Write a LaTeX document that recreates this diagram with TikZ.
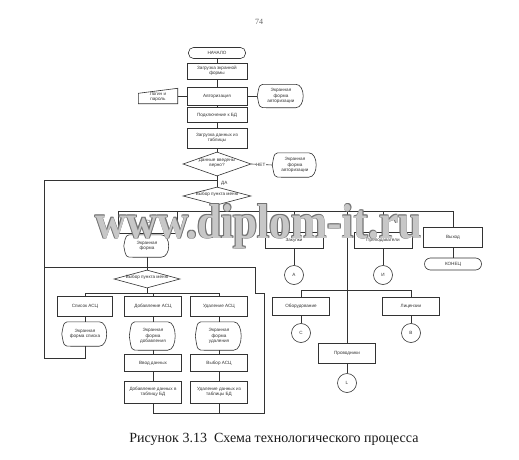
\documentclass[tikz,border=0pt]{standalone}
\usepackage{fontspec}
\setmainfont{Liberation Sans}
\newfontfamily\serifcap{Liberation Serif}
\usetikzlibrary{shapes.geometric,calc}
\newcommand\dtext[1]{\makebox[0pt]{\smash{\begin{tabular}{@{}c@{}}#1\end{tabular}}}}
\newcommand\dispdraw[1]{\draw[ln] ($(#1.north west)+(9,0)$) -- ($(#1.north east)+(-9,0)$) .. controls ($(#1.north east)+(1,0)$) and ($(#1.south east)+(1,0)$) .. ($(#1.south east)+(-9,0)$) -- ($(#1.south west)+(9,0)$) .. controls ($(#1.south west)+(2,0)$) .. (#1.west) .. controls ($(#1.north west)+(2,0)$) .. ($(#1.north west)+(9,0)$);}
\newcommand\maninput[1]{\draw[ln] (#1.south west) -- ($(#1.north west)+(0,5)$) -- (#1.north east) -- (#1.south east) -- cycle;}
\newcommand\wmtext{\resizebox{327pt}{34pt}{www.diplom-it.ru}}
\tikzset{
  ln/.style={line width=0.6pt, draw=black!80},
  fc/.style={font=\fontsize{4.6}{5.3}\selectfont, align=center, inner sep=0pt, text=black!80},
  pbox/.style={fc, draw=black!80, line width=0.6pt, rectangle, minimum width=58pt, minimum height=17pt},
  term/.style={fc, draw=black!80, line width=0.6pt, rounded corners=5pt, minimum width=57pt, minimum height=11pt},
  dec/.style={fc, draw=black!80, line width=0.6pt, diamond},
  conn/.style={fc, draw=black!80, line width=0.6pt, circle, minimum size=19pt},
  disp/.style={fc, minimum width=46pt, minimum height=23pt},
  lbl/.style={fc},
  wmark/.style={anchor=base west, inner sep=0pt, font=\serifcap\bfseries}
}
\begin{document}
\begin{tikzpicture}[x=1pt,y=-1pt]
\useasboundingbox[fill=white] (0,0) rectangle (519,460);
% page number
\node[font=\serifcap\fontsize{8}{9}\selectfont, text=black!60] (pg) at (259,22) {74};
% main column
\node[term] (start) at (217,53) {НАЧАЛО};
\node[pbox, minimum width=60pt, minimum height=16pt] (load) at (217,71) {Загрузка экранной\\формы};
\node[pbox, minimum width=60pt, minimum height=18pt] (auth) at (217,96) {Авторизация};
\node[fc, minimum width=39pt, minimum height=15pt] (login) at (158,96) {\\[-1pt]Логин и\\пароль};
\maninput{login}
\node[disp, minimum width=47pt] (authscr) at (281,96) {Экранная\\форма\\авторизации};
\dispdraw{authscr}
\node[pbox, minimum width=60pt, minimum height=15pt] (db) at (217,115) {Подключение к БД};
\node[pbox, minimum width=60pt, minimum height=20pt] (fill) at (217,138) {Загрузка данных из\\таблицы};
\node[dec, minimum width=68pt, minimum height=24pt] (d1) at (217,164) {\dtext{Данные введены\\верно?}};
\node[disp, minimum width=45pt, minimum height=24pt] (err) at (295,165) {Экранная\\форма\\авторизации};
\dispdraw{err}
\node[dec, minimum width=68pt, minimum height=18pt] (d2) at (217,196) {\dtext{Выбор пункта меню}};
\node[lbl, anchor=west] (yes) at (221,183) {ДА};

\draw[ln] (start) -- (load);
\draw[ln] (load) -- (auth);
\draw[ln] (login.east) -- (auth.west);
\draw[ln] (auth.east) -- (authscr.west);
\draw[ln] (auth) -- (db);
\draw[ln] (db) -- (fill);
\draw[ln] (fill) -- (d1);
\draw[ln] (d1.east) -- (err.west) node[lbl, pos=0.45, fill=white, inner sep=0.5pt] (no) {НЕТ};
\draw[ln] (d1.south) -- (d2.north);

% outer loop
\coordinate (j1) at (217,180);
\coordinate (L1) at (44,180);
\coordinate (L2) at (44,358);
\coordinate (L3) at (85,358);

% top menu bus
\coordinate (j2) at (217,211);
\node[pbox, minimum width=59pt, minimum height=22pt] (asc) at (148,222) {АСЦ};
\node[disp, minimum width=46pt, minimum height=22pt] (ascscr) at (147,246) {Экранная\\форма};
\dispdraw{ascscr}
\node[pbox, minimum width=58pt, minimum height=16pt] (buy) at (294,240) {Закупки};
\node[conn] (cA) at (294,275) {А};
\node[pbox, minimum width=58pt, minimum height=16pt] (prep) at (383,240) {Преподаватели};
\node[conn] (cI) at (383,275) {И};
\node[pbox, minimum width=59pt, minimum height=20pt] (exit) at (453,237) {Выход};
\node[term, minimum width=57pt, minimum height=12pt, rounded corners=6pt] (end) at (453,264) {КОНЕЦ};
\coordinate (bL) at (148,211);
\coordinate (bR) at (453,211);
\coordinate (tr) at (347,211);
\draw[ln] (d2.south) -- (j2);
\draw[ln] (bL) -- (bR);
\draw[ln] (bL) -- (asc.north);
\draw[ln] (asc) -- (ascscr);
\draw[ln] (buy.north |- bL) -- (buy.north);
\draw[ln] (prep.north |- bL) -- (prep.north);
\draw[ln] (bR) -- (exit.north);
\draw[ln] (exit) -- (end);
\draw[ln] (buy) -- (cA);
\draw[ln] (prep) -- (cI);

% right sub tree
\node[pbox, minimum width=57pt, minimum height=18pt] (equip) at (301,306) {Оборудование};
\node[conn] (cC) at (301,333) {С};
\node[pbox, minimum width=57pt, minimum height=18pt] (lic) at (411,306) {Лицензии};
\node[conn] (cB) at (411,333) {В};
\node[pbox, minimum width=57pt, minimum height=20pt] (prov) at (347,353) {Проводники};
\node[conn] (cL) at (347,383) {L};
\coordinate (sL) at (301,290);
\coordinate (sR) at (411,290);
\draw[ln] (tr) -- (prov.north);
\draw[ln] (sL) -- (sR);
\draw[ln] (sL) -- (equip.north);
\draw[ln] (sR) -- (lic.north);
\draw[ln] (equip) -- (cC);
\draw[ln] (lic) -- (cB);
\draw[ln] (prov) -- (cL);

% ASC sub menu
\node[dec, minimum width=66pt, minimum height=18pt] (d3) at (147,279) {\dtext{Выбор пункта меню}};
\node[pbox, minimum width=55pt, minimum height=20pt] (list) at (85,306) {Список АСЦ};
\node[pbox, minimum width=57pt, minimum height=20pt] (add) at (153,306) {Добавление АСЦ};
\node[pbox, minimum width=57pt, minimum height=20pt] (del) at (219,306) {Удаление АСЦ};
\node[disp, minimum width=46pt, minimum height=24pt] (listscr) at (85,334) {Экранная\\форма списка};
\dispdraw{listscr}
\node[disp, minimum width=47pt, minimum height=28pt] (addscr) at (153,336) {Экранная\\форма\\добавления};
\dispdraw{addscr}
\node[disp, minimum width=47pt, minimum height=28pt] (delscr) at (219,336) {Экранная\\форма\\удаления};
\dispdraw{delscr}
\node[pbox, minimum width=57pt, minimum height=17pt] (input) at (153,363) {Ввод данных};
\node[pbox, minimum width=57pt, minimum height=17pt] (sel) at (219,363) {Выбор АСЦ};
\node[pbox, minimum width=57pt, minimum height=22pt] (adddb) at (153,392) {Добавление данных в\\таблицу БД};
\node[pbox, minimum width=57pt, minimum height=22pt] (deldb) at (219,392) {Удаление данных из\\таблицы БД};
\coordinate (s3L) at (85,293);
\coordinate (s3R) at (219,293);
\coordinate (s3M) at (147,293);
\draw[ln] (ascscr.south) -- (d3.north);
\draw[ln] (d3.south) -- (s3M);
\draw[ln] (s3L) -- (s3R);
\draw[ln] (s3L) -- (list.north);
\draw[ln] (add.north |- s3L) -- (add.north);
\draw[ln] (s3R) -- (del.north);
\draw[ln] (list) -- (listscr);
\draw[ln] (add) -- (addscr);
\draw[ln] (del) -- (delscr);
\draw[ln] (addscr) -- (input);
\draw[ln] (delscr) -- (sel);
\draw[ln] (input) -- (adddb);
\draw[ln] (sel) -- (deldb);

% loops
\coordinate (M1) at (44,267);
\coordinate (M2) at (255,267);
\coordinate (M3) at (255,293);
\coordinate (M4) at (264,293);
\coordinate (M5) at (264,413);
\coordinate (M6) at (153,413);
\coordinate (M7) at (219,413);
\draw[ln] (j1) -- (L1) -- (L2) -- (L3) -- (listscr.south);
\draw[ln] (M1) -- (M2) -- (M3) -- (M4) -- (M5) -- (M6) -- (adddb.south);
\draw[ln] (deldb.south) -- (M7);

% watermark (embossed outline look)
\node[wmark, text=black!55] (wma) at (94.3,237.3) {\wmtext};
\node[wmark, text=black!55] (wmb) at (95.7,237.3) {\wmtext};
\node[wmark, text=black!55] (wmc) at (94.3,238.7) {\wmtext};
\node[wmark, text=black!55] (wmd) at (95.7,238.7) {\wmtext};
\node[wmark, text=black!22] (wm) at (95,238) {\wmtext};

% caption
\node[anchor=base, inner sep=0pt, font=\serifcap\fontsize{14}{16}\selectfont, text=black!90] (cap) at (274,442) {Рисунок 3.13\ \ Схема технологического процесса};
\end{tikzpicture}
\end{document}
